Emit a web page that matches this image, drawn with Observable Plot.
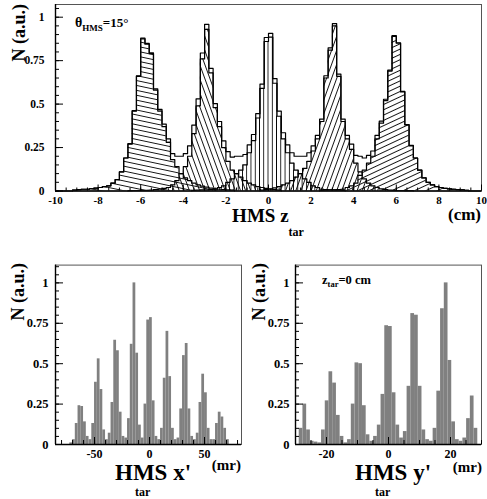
<!DOCTYPE html>
<html><head><meta charset="utf-8">
<script src="https://cdn.jsdelivr.net/npm/d3@7"></script>
<script src="https://cdn.jsdelivr.net/npm/@observablehq/plot@0.6"></script>
<style>
body{margin:0;background:#fff;}
#wrap{position:relative;width:487px;height:499px;overflow:hidden;background:#fff;}
#wrap svg{position:absolute;}
</style></head><body><div id="wrap"></div>
<script>
// ---------- DATA ----------
// Top panel: HMS z_tar (cm), bin width 0.2 cm; each foil histogram = lower edge of first bin + values
const zBin = 0.2;
const zNeg6Start = -9.2;
const zNeg6 = [0.005, 0.008, 0.01, 0.01, 0.013, 0.016, 0.02, 0.025, 0.03, 0.045, 0.065, 0.11, 0.19, 0.27, 0.46, 0.66, 0.875, 0.845, 0.79, 0.58, 0.46, 0.37, 0.28, 0.18, 0.14, 0.1, 0.075, 0.06, 0.045, 0.035, 0.028, 0.022, 0.017, 0.013, 0.01, 0.008, 0.006, 0.005];
const zNeg3Start = -6.6;
const zNeg3 = [0.002, 0.003, 0.003, 0.004, 0.004, 0.005, 0.008, 0.01, 0.015, 0.02, 0.035, 0.06, 0.1, 0.14, 0.2, 0.33, 0.49, 0.76, 0.93, 0.68, 0.48, 0.37, 0.25, 0.17, 0.12, 0.1, 0.08, 0.06, 0.045, 0.035, 0.025, 0.02, 0.015, 0.01, 0.008, 0.005];
const z0Start = -3.6;
const z0 = [0.004, 0.005, 0.006, 0.007, 0.008, 0.01, 0.02, 0.03, 0.05, 0.07, 0.1, 0.12, 0.15, 0.22, 0.29, 0.42, 0.59, 0.86, 0.885, 0.62, 0.43, 0.3, 0.22, 0.16, 0.12, 0.1, 0.07, 0.05, 0.03, 0.02, 0.01, 0.008, 0.007, 0.006, 0.005, 0.004];
const zPos3Start = -0.4;
const zPos3 = [0.005, 0.008, 0.012, 0.018, 0.025, 0.035, 0.045, 0.06, 0.08, 0.1, 0.13, 0.17, 0.23, 0.3, 0.4, 0.65, 0.81, 0.95, 0.66, 0.4, 0.3, 0.24, 0.16, 0.11, 0.07, 0.045, 0.03, 0.02, 0.012, 0.008, 0.005, 0.004, 0.003, 0.003, 0.002, 0.002];
const zPos6Start = 2.4;
const zPos6 = [0.004, 0.005, 0.006, 0.007, 0.008, 0.01, 0.02, 0.03, 0.045, 0.09, 0.12, 0.16, 0.2, 0.3, 0.39, 0.52, 0.69, 0.89, 0.85, 0.57, 0.38, 0.26, 0.19, 0.12, 0.075, 0.05, 0.035, 0.025, 0.02, 0.015, 0.012, 0.01, 0.008, 0.006, 0.004];

// Bottom left: HMS x'_tar (mr), bin width 2.5 mr
const xpStart = -72.5, xpBin = 2.5;
const xpVals = [0.01, 0.03, 0.13, 0.24, 0.235, 0.14, 0.05, 0.03, 0.13, 0.385, 0.53, 0.34, 0.09, 0.03, 0.07, 0.26, 0.645, 0.58, 0.2, 0.05, 0.04, 0.16, 0.62, 1.0, 0.565, 0.12, 0.04, 0.25, 0.77, 0.785, 0.27, 0.05, 0.03, 0.1, 0.41, 0.70, 0.42, 0.1, 0.03, 0.04, 0.22, 0.55, 0.625, 0.22, 0.05, 0.03, 0.07, 0.26, 0.435, 0.32, 0.1, 0.03, 0.03, 0.13, 0.2, 0.17, 0.1, 0.03];

// Bottom right: HMS y'_tar (mr), bin width 1.2 mr
const ypStart = -30, ypBin = 1.2;
const ypVals = [0.0, 0.1, 0.25, 0.09, 0.02, 0.015, 0.01, 0.09, 0.27, 0.45, 0.38, 0.18, 0.05, 0.01, 0.03, 0.25, 0.505, 0.5, 0.24, 0.06, 0.02, 0.05, 0.12, 0.31, 0.735, 0.73, 0.32, 0.12, 0.04, 0.08, 0.36, 0.81, 0.8, 0.36, 0.09, 0.03, 0.02, 0.1, 0.33, 0.84, 1.0, 0.52, 0.14, 0.03, 0.02, 0.04, 0.16, 0.3, 0.1, 0.0];

// Ticks
const nTicks = [0, 0.25, 0.5, 0.75, 1];
const zTicks = [-10, -8, -6, -4, -2, 0, 2, 4, 6, 8, 10];
const xpTicks = [-50, 0, 50];
const ypTicks = [-20, 0, 20];

// ---------- HELPERS ----------
const wrap = document.getElementById("wrap");
const css = {fontFamily: '"Liberation Serif", "Times New Roman", serif', fontWeight: "bold", fontSize: "11.5px", background: "transparent", overflow: "visible"};

function steps(start, w, vals) {
  const pts = [{x: start, y: 0}];
  vals.forEach((v, i) => { pts.push({x: start + i * w, y: v}); pts.push({x: start + (i + 1) * w, y: v}); });
  pts.push({x: start + vals.length * w, y: 0});
  return pts;
}
function bins(start, w, vals) {
  return vals.map((v, i) => ({x1: start + i * w, x2: start + (i + 1) * w, y: v}));
}
function yAxes(minor, major, fs, pad) {
  return [
    Plot.axisY({ticks: minor, tickSize: -4, tickFormat: () => "", label: null}),
    Plot.axisY({ticks: major, tickSize: -8, tickPadding: pad, tickFormat: d => String(d), fontSize: fs, label: null})
  ];
}
function xAxes(minor, major, fs, pad, majLen, minLen) {
  return [
    Plot.axisX({ticks: minor, tickSize: -minLen, tickFormat: () => "", label: null}),
    Plot.axisX({ticks: major, tickSize: -majLen, tickPadding: pad, tickFormat: d => String(d), fontSize: fs, label: null})
  ];
}
function place(svg, left, topPx) {
  svg.style.position = "absolute"; svg.style.left = left + "px"; svg.style.top = topPx + "px";
  wrap.appendChild(svg);
}
function label(svg, {x, y, anchor = "start", rotate = 0, parts}) {
  const t = d3.select(svg).append("text").attr("text-anchor", anchor).attr("fill", "black")
    .attr("font-weight", "bold")
    .attr("transform", `translate(${x},${y})` + (rotate ? ` rotate(${rotate})` : ""));
  for (const p of parts) t.append("tspan").attr("font-size", p.size).attr("dy", p.dy || 0).text(p.t);
}

// ---------- TOP PANEL ----------
const hists = [[zNeg6Start, zNeg6, "hA"], [zNeg3Start, zNeg3, "hB"], [z0Start, z0, "hC"], [zPos3Start, zPos3, "hD"], [zPos6Start, zPos6, "hE"]];
const total = new Array(100).fill(0);
for (const [s, vals] of hists) vals.forEach((v, i) => { const k = Math.round((s + 10) / zBin) + i; if (k >= 0 && k < 100) total[k] += v; });

const topPlot = Plot.plot({
  width: 487, height: 240,
  marginLeft: 55, marginRight: 6, marginTop: 4, marginBottom: 49.5,
  x: {domain: [-10, 10], label: null},
  y: {domain: [0, 1.073], label: null},
  style: css,
  marks: [
    ...hists.map(([s, vals, id]) => Plot.areaY(steps(s, zBin, vals), {x: "x", y1: 0, y2: "y", fill: `url(#${id})`})),
    ...hists.map(([s, vals]) => Plot.line(steps(s, zBin, vals), {x: "x", y: "y", stroke: "black", strokeWidth: 1.2})),
    Plot.line(steps(-10, zBin, total), {x: "x", y: "y", stroke: "black", strokeWidth: 1.2}),
    Plot.frame({stroke: "#555", strokeWidth: 1}),
    Plot.ruleX([-10], {stroke: "black", strokeWidth: 1.4}),
    Plot.ruleY([0], {stroke: "black", strokeWidth: 1.4}),
    ...yAxes(d3.range(0, 1.06, 0.05), nTicks, 11.5, 19),
    ...xAxes(d3.range(-10, 10.01, 0.5), zTicks, 11, 11, 6, 3)
  ]
});
// hatch patterns
{
  const defs = d3.select(topPlot).insert("defs", ":first-child");
  for (const [id, ang] of [["hA", 12], ["hB", 70], ["hD", -70], ["hE", -25]]) {
    const p = defs.append("pattern").attr("id", id).attr("patternUnits", "userSpaceOnUse")
      .attr("width", 10).attr("height", 4.8).attr("patternTransform", `rotate(${ang})`);
    p.append("line").attr("x1", 0).attr("y1", 2.4).attr("x2", 10).attr("y2", 2.4).attr("stroke", "black").attr("stroke-width", 0.9);
  }
  const sx = topPlot.scale("x");
  const bw = sx.apply(zBin) - sx.apply(0), x0 = sx.apply(0);
  const pc = defs.append("pattern").attr("id", "hC").attr("patternUnits", "userSpaceOnUse")
    .attr("width", bw).attr("height", 10).attr("patternTransform", `translate(${x0 - bw / 2},0)`);
  pc.append("line").attr("x1", bw / 2).attr("y1", 0).attr("x2", bw / 2).attr("y2", 10).attr("stroke", "black").attr("stroke-width", 0.9);
}
label(topPlot, {x: 25, y: 4, anchor: "end", rotate: -90, parts: [{t: "N (a.u.)", size: 18}]});
label(topPlot, {x: 75, y: 27, parts: [{t: "θ", size: 14}, {t: "HMS", size: 9, dy: 4}, {t: "=15°", size: 13, dy: -4}]});
label(topPlot, {x: 268, y: 222, anchor: "middle", parts: [{t: "HMS z", size: 19}, {t: "tar", size: 12, dy: 14}]});
label(topPlot, {x: 481, y: 220, anchor: "end", parts: [{t: "(cm)", size: 17}]});
place(topPlot, 0, 0);

// ---------- BOTTOM LEFT ----------
const blPlot = Plot.plot({
  width: 245, height: 249,
  marginLeft: 55, marginRight: 4, marginTop: 14.6, marginBottom: 55,
  x: {domain: [-85.5, 83.6], label: null},
  y: {domain: [0, 1.11], label: null},
  style: css,
  marks: [
    Plot.rectY(bins(xpStart, xpBin, xpVals), {x1: "x1", x2: "x2", y: "y", fill: "#808080"}),
    Plot.frame({stroke: "#555", strokeWidth: 1}),
    Plot.ruleX([-85.5], {stroke: "black", strokeWidth: 1.4}),
    Plot.ruleY([0], {stroke: "black", strokeWidth: 1.4}),
    ...yAxes(d3.range(0, 1.11, 0.05), nTicks, 12.5, 15),
    ...xAxes(d3.range(-80, 81, 10), xpTicks, 12, 11.5, 7, 4)
  ]
});
label(blPlot, {x: 24, y: 13, anchor: "end", rotate: -90, parts: [{t: "N (a.u.)", size: 18}]});
label(blPlot, {x: 115, y: 230, parts: [{t: "HMS x'", size: 23}]});
label(blPlot, {x: 135, y: 246, parts: [{t: "tar", size: 12}]});
label(blPlot, {x: 241, y: 220, anchor: "end", parts: [{t: "(mr)", size: 15}]});
place(blPlot, 0, 250);

// ---------- BOTTOM RIGHT ----------
const brPlot = Plot.plot({
  width: 242, height: 249,
  marginLeft: 50, marginRight: 6, marginTop: 14.6, marginBottom: 55,
  x: {domain: [-30, 30], label: null},
  y: {domain: [0, 1.11], label: null},
  style: css,
  marks: [
    Plot.rectY(bins(ypStart, ypBin, ypVals), {x1: "x1", x2: "x2", y: "y", fill: "#808080"}),
    Plot.frame({stroke: "#555", strokeWidth: 1}),
    Plot.ruleX([-30], {stroke: "black", strokeWidth: 1.4}),
    Plot.ruleY([0], {stroke: "black", strokeWidth: 1.4}),
    ...yAxes(d3.range(0, 1.11, 0.05), nTicks, 12.5, 14),
    ...xAxes(d3.range(-30, 31, 5), ypTicks, 12, 11.5, 7, 4)
  ]
});
label(brPlot, {x: 20, y: 13, anchor: "end", rotate: -90, parts: [{t: "N (a.u.)", size: 18}]});
label(brPlot, {x: 110, y: 230, parts: [{t: "HMS y'", size: 23}]});
label(brPlot, {x: 130, y: 246, parts: [{t: "tar", size: 12}]});
label(brPlot, {x: 237, y: 222, anchor: "end", parts: [{t: "(mr)", size: 15}]});
label(brPlot, {x: 77, y: 34, parts: [{t: "z", size: 12.5}, {t: "tar", size: 8.5, dy: 3}, {t: "=0 cm", size: 12.5, dy: -3}]});
place(brPlot, 245, 250);
</script></body></html>
